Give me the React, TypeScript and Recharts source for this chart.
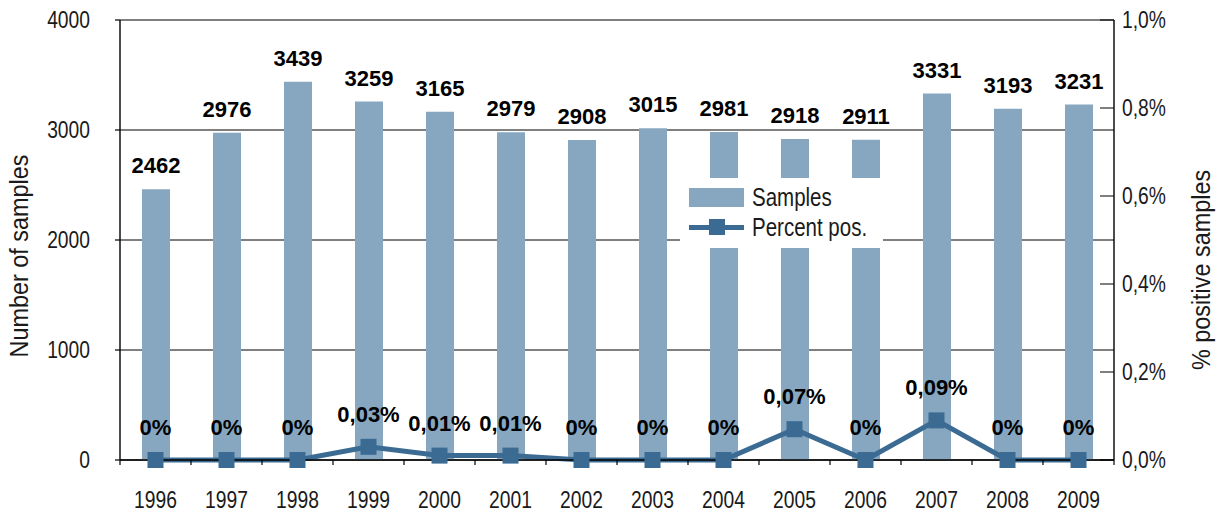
import { ComposedChart, Bar, Line, XAxis, YAxis, CartesianGrid, LabelList } from 'recharts';

const years = ['1996', '1997', '1998', '1999', '2000', '2001', '2002', '2003', '2004', '2005', '2006', '2007', '2008', '2009'];
const samples = [2462, 2976, 3439, 3259, 3165, 2979, 2908, 3015, 2981, 2918, 2911, 3331, 3193, 3231];
const percentPos = [0, 0, 0, 0.03, 0.01, 0.01, 0, 0, 0, 0.07, 0, 0.09, 0, 0];
const sampleTicks = [0, 1000, 2000, 3000, 4000];
const percentTicks = [0, 0.2, 0.4, 0.6, 0.8, 1.0];

const data = years.map((year, i) => ({ year, samples: samples[i], pct: percentPos[i] }));

const BAR = '#87a7c1';
const LINE = '#3b6b92';
const INK = '#1a1a1a';
const FONT = '"Liberation Sans", Arial, sans-serif';
const NARROW = 0.82; // squeeze Arial metrics to a narrow face
const FS = 23.5;

const W = 1221;
const H = 512;
const PLOT_L = 120;
const PLOT_R = 1114;
const PLOT_T = 20;
const PLOT_B = 460;
const band = (PLOT_R - PLOT_L) / years.length;

const fmtPct = (v: number) => (v === 0 ? '0%' : v.toFixed(2).replace('.', ',') + '%');
const fmtAxisPct = (v: number) => v.toFixed(1).replace('.', ',') + '%';

// narrow text drawn at (x, y), optionally rotated
function NText({ x, y, anchor = 'middle', rotate = 0, dy, size = FS, squeeze = NARROW, children }: any) {
  return (
    <text
      transform={`translate(${x},${y}) rotate(${rotate}) scale(${squeeze},1)`}
      textAnchor={anchor}
      dy={dy}
      fill={INK}
      fontFamily={FONT}
      fontSize={size}
    >
      {children}
    </text>
  );
}

function SquareDot(props: any) {
  const { cx, cy, index } = props;
  if (cx == null || cy == null) return <g key={index} />;
  return <rect key={index} x={cx - 8} y={cy - 8} width={16} height={16} fill={LINE} />;
}

function YearTick(props: any) {
  const { x, y, payload, index } = props;
  return (
    <g>
      <line x1={x - band / 2} x2={x - band / 2} y1={y} y2={y + 5} stroke="#000" strokeWidth={1.2} />
      {index === years.length - 1 && (
        <line x1={x + band / 2} x2={x + band / 2} y1={y} y2={y + 5} stroke="#000" strokeWidth={1.2} />
      )}
      <NText x={x} y={y + 48}>{payload.value}</NText>
    </g>
  );
}

function CountTick(props: any) {
  const { x, y, payload } = props;
  return (
    <NText x={x} y={y} anchor="end" dy="0.36em">
      {payload.value}
    </NText>
  );
}

function PctTick(props: any) {
  const { x, y, payload } = props;
  return (
    <g>
      <line x1={x - 22} x2={x - 8} y1={y} y2={y} stroke="#000" strokeWidth={1} />
      <NText x={x} y={y} anchor="start" dy="0.36em">
        {fmtAxisPct(payload.value)}
      </NText>
    </g>
  );
}

function LeftTitle() {
  return (
    <NText x={19} y={256} rotate={-90} dy="0.36em" size={26} squeeze={0.9}>
      Number of samples
    </NText>
  );
}

function RightTitle() {
  return (
    <NText x={1201} y={270} rotate={-90} dy="0.36em" size={26} squeeze={0.9}>
      % positive samples
    </NText>
  );
}

const legendText: React.CSSProperties = {
  position: 'absolute',
  whiteSpace: 'nowrap',
  lineHeight: '30px',
  transform: `scaleX(${NARROW})`,
  transformOrigin: 'left center',
};

function LegendBox() {
  return (
    <div
      style={{
        position: 'absolute',
        left: 680,
        top: 178,
        width: 203,
        height: 70,
        background: '#fff',
        fontFamily: FONT,
        fontSize: 25,
        color: INK,
      }}
    >
      <div style={{ position: 'absolute', left: 9, top: 10, width: 55, height: 19, background: BAR }} />
      <div style={{ ...legendText, left: 72, top: 4 }}>Samples</div>
      <div style={{ position: 'absolute', left: 9, top: 47, width: 55, height: 5, background: LINE }} />
      <div style={{ position: 'absolute', left: 29, top: 41, width: 16, height: 16, background: LINE }} />
      <div style={{ ...legendText, left: 72, top: 34 }}>Percent pos.</div>
    </div>
  );
}

export default function App() {
  return (
    <div style={{ position: 'absolute', left: 0, top: 0, width: W, height: H, background: '#fff' }}>
      <ComposedChart width={W} height={H} data={data} margin={{ top: PLOT_T, right: 0, bottom: 0, left: 0 }} barSize={28}>
        <CartesianGrid yAxisId="left" vertical={false} stroke="#000" strokeWidth={1} />
        <XAxis
          dataKey="year"
          height={H - PLOT_B}
          tickSize={0}
          tickMargin={0}
          tickLine={false}
          interval={0}
          axisLine={{ stroke: '#000', strokeWidth: 1.6 }}
          tick={<YearTick />}
        />
        <YAxis
          yAxisId="left"
          width={PLOT_L}
          domain={[0, 4000]}
          ticks={sampleTicks}
          tickSize={5}
          tickMargin={25}
          tickLine={{ stroke: '#000', strokeWidth: 1.2 }}
          axisLine={{ stroke: '#000', strokeWidth: 1.4 }}
          tick={<CountTick />}
          label={<LeftTitle />}
        />
        <YAxis
          yAxisId="pct"
          orientation="right"
          width={W - PLOT_R}
          domain={[0, 1]}
          ticks={percentTicks}
          tickSize={0}
          tickMargin={8}
          tickLine={false}
          axisLine={{ stroke: '#000', strokeWidth: 1.4 }}
          tick={<PctTick />}
          label={<RightTitle />}
        />
        <Bar yAxisId="left" dataKey="samples" name="Samples" fill={BAR} isAnimationActive={false}>
          <LabelList dataKey="samples" position="top" offset={16} fill="#000" fontFamily={FONT} fontWeight="bold" fontSize={22} />
        </Bar>
        <Line
          yAxisId="pct"
          dataKey="pct"
          name="Percent pos."
          type="linear"
          stroke={LINE}
          strokeWidth={5}
          dot={<SquareDot />}
          activeDot={false}
          isAnimationActive={false}
        >
          <LabelList
            dataKey="pct"
            position="top"
            offset={25}
            fill="#000"
            fontFamily={FONT}
            fontWeight="bold"
            fontSize={22}
            formatter={(v: any) => fmtPct(Number(v))}
          />
        </Line>
      </ComposedChart>
      <LegendBox />
    </div>
  );
}
